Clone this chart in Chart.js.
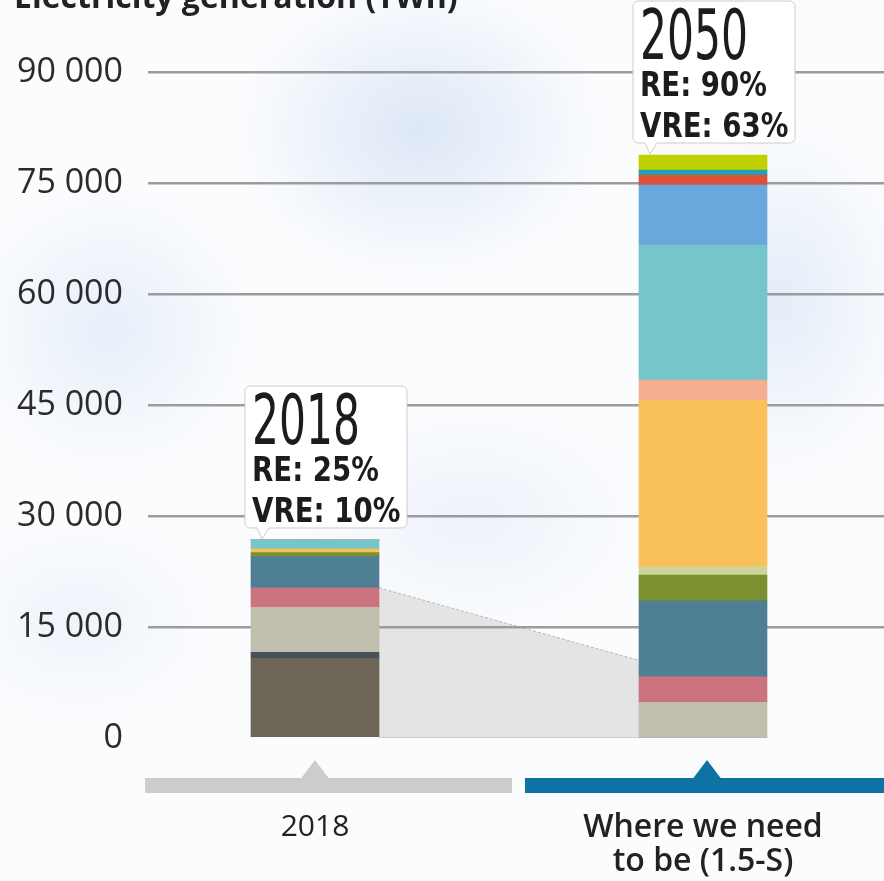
<!DOCTYPE html>
<html><head><meta charset="utf-8">
<script src="https://cdn.jsdelivr.net/npm/chart.js@4/dist/chart.umd.min.js"></script>
<style>
html,body{margin:0;padding:0;width:884px;height:881px;overflow:hidden;}
body{background:
 radial-gradient(ellipse 260px 210px at 420px 130px, rgba(196,215,239,.55), transparent 72%),
 radial-gradient(ellipse 190px 260px at 780px 300px, rgba(200,218,240,.45), transparent 70%),
 radial-gradient(ellipse 210px 210px at 110px 330px, rgba(205,222,242,.45), transparent 70%),
 radial-gradient(ellipse 260px 170px at 470px 520px, rgba(210,225,243,.35), transparent 70%),
 radial-gradient(ellipse 200px 150px at 80px 620px, rgba(215,228,245,.35), transparent 70%),
 #fbfcfe;}
#wrap{position:relative;width:884px;height:881px;}
</style></head><body><div id="wrap"><canvas id="c" width="884" height="881"></canvas></div>
<script>
// ---- data ----
const categories = ['2018', 'Where we need to be (1.5-S)'];
const xLabels = ['2018', ['Where we need', 'to be (1.5-S)']];
const yTicks = [0, 15000, 30000, 45000, 60000, 75000, 90000];
const calloutYears = ['2018', '2050'];
const reShares = [25, 90];
const vreShares = [10, 63];
const connector = [20300, 10500];

const seriesNames = ['Coal', 'Oil', 'Natural gas', 'Nuclear', 'Hydropower', 'Bioenergy',
  'Geothermal', 'Solar PV', 'CSP', 'Wind onshore', 'Wind offshore', 'Ocean', 'Others', 'Hydrogen'];
const coal        = [10770, 0];
const oil         = [810, 0];
const naturalGas  = [6080, 4820];
const nuclear     = [2650, 3460];
const hydropower  = [4190, 10270];
const bioenergy   = [540, 3470];
const geothermal  = [0, 1120];
const solarPV     = [500, 22530];
const csp         = [0, 2700];
const windOnshore = [1220, 18240];
const windOffshore= [0, 8110];
const ocean       = [0, 1350];
const others      = [0, 680];
const hydrogen    = [0, 2030];
const seriesValues = [coal, oil, naturalGas, nuclear, hydropower, bioenergy, geothermal,
  solarPV, csp, windOnshore, windOffshore, ocean, others, hydrogen];

// ---- styles ----
const palette = ['#6c6558', '#45525a', '#c0bfad', '#cc7380', '#4f7f95', '#7b902e',
  '#cdd59c', '#f9c05c', '#f5ae92', '#76c5cb', '#68a8dc', '#de5038', '#1fa2b4', '#bfd100'];

const totals = categories.map((c, i) => seriesValues.reduce((s, arr) => s + arr[i], 0));
const fmt = v => String(v).replace(/\B(?=(\d{3})+(?!\d))/g, ' ');
const BAR = 128;

const backdrop = {
  id: 'backdrop',
  beforeDraw(chart) {
    const {ctx, scales: {x, y}} = chart;
    const x0 = x.getPixelForValue(0) + BAR / 2, x1 = x.getPixelForValue(1) - BAR / 2;
    const ya = y.getPixelForValue(connector[0]), yb = y.getPixelForValue(connector[1]);
    const y0 = y.getPixelForValue(0);
    ctx.save();
    ctx.fillStyle = '#e4e4e4';
    ctx.beginPath();
    ctx.moveTo(x0, ya); ctx.lineTo(x1, yb); ctx.lineTo(x1, y0); ctx.lineTo(x0, y0); ctx.closePath();
    ctx.fill();
    ctx.strokeStyle = '#b8b8b8'; ctx.lineWidth = 1; ctx.setLineDash([3, 2]);
    ctx.beginPath(); ctx.moveTo(x0, ya); ctx.lineTo(x1, yb); ctx.stroke();
    ctx.setLineDash([]);
    ctx.strokeStyle = '#cfcfcf';
    ctx.beginPath(); ctx.moveTo(x0, y0 - 0.5); ctx.lineTo(x1, y0 - 0.5); ctx.stroke();
    // title (cropped at top)
    ctx.fillStyle = '#222';
    ctx.font = 'bold 32px "Open Sans"';
    ctx.textBaseline = 'alphabetic';
    ctx.fillText('Electricity generation (TWh)', 14, 8);
    ctx.restore();
  }
};

const callouts = {
  id: 'callouts',
  afterDatasetsDraw(chart) {
    const {ctx, scales: {x, y}} = chart;
    categories.forEach((c, i) => {
      const top = y.getPixelForValue(totals[i]);
      const xl = x.getPixelForValue(i) - BAR / 2;
      const bl = xl - 6, br = xl + 156, bt = top - 154, bb = top - 12;
      ctx.save();
      ctx.fillStyle = '#ffffff';
      ctx.strokeStyle = '#cccccc';
      ctx.lineWidth = 1;
      ctx.beginPath();
      ctx.moveTo(bl + 6, bt); ctx.lineTo(br - 6, bt); ctx.quadraticCurveTo(br, bt, br, bt + 6);
      ctx.lineTo(br, bb - 6); ctx.quadraticCurveTo(br, bb, br - 6, bb);
      ctx.lineTo(xl + 18, bb); ctx.lineTo(xl + 11, top - 1); ctx.lineTo(xl + 6, bb);
      ctx.lineTo(bl + 6, bb); ctx.quadraticCurveTo(bl, bb, bl, bb - 6);
      ctx.lineTo(bl, bt + 6); ctx.quadraticCurveTo(bl, bt, bl + 6, bt);
      ctx.closePath();
      ctx.fill(); ctx.stroke();
      ctx.fillStyle = '#1c1c1c';
      ctx.textBaseline = 'alphabetic';
      // year
      ctx.font = '70px "DejaVu Sans"';
      const sy = 108 / ctx.measureText('2018').width;
      ctx.save(); ctx.translate(xl + 1, top - 96); ctx.scale(sy, 1);
      ctx.fillText(calloutYears[i], 0, 0); ctx.restore();
      // RE / VRE
      ctx.font = 'bold 33px "DejaVu Sans"';
      const sr = 127 / ctx.measureText('RE: 25%').width;
      ctx.save(); ctx.translate(xl + 1, top - 59); ctx.scale(sr, 1);
      ctx.fillText('RE: ' + reShares[i] + '%', 0, 0); ctx.restore();
      ctx.save(); ctx.translate(xl + 1, top - 18); ctx.scale(sr, 1);
      ctx.fillText('VRE: ' + vreShares[i] + '%', 0, 0); ctx.restore();
      ctx.restore();
    });
  }
};

const strips = {
  id: 'strips',
  afterDraw(chart) {
    const {ctx, scales: {x, y}} = chart;
    const base = y.getPixelForValue(0);
    const st = base + 40, sh = 15;
    const c0 = x.getPixelForValue(0), c1 = x.getPixelForValue(1);
    const mid = (c0 + c1) / 2 + 9;
    ctx.save();
    ctx.fillStyle = '#cccccc';
    ctx.fillRect(145, st, mid - 6 - 145, sh);
    ctx.beginPath(); ctx.moveTo(c0 - 14, st + 0.5); ctx.lineTo(c0, st - 18); ctx.lineTo(c0 + 14, st + 0.5); ctx.closePath(); ctx.fill();
    ctx.fillStyle = '#0e72a4';
    ctx.fillRect(mid + 7, st, chart.width - mid - 7, sh);
    ctx.beginPath(); ctx.moveTo(c1 + 4 - 14, st + 0.5); ctx.lineTo(c1 + 4, st - 18); ctx.lineTo(c1 + 4 + 14, st + 0.5); ctx.closePath(); ctx.fill();
    ctx.restore();
  }
};

new Chart(document.getElementById('c'), {
  type: 'bar',
  data: {
    datasets: seriesNames.map((n, k) => ({
      label: n,
      data: seriesValues[k].map((v, i) => ({x: i, y: v})),
      backgroundColor: palette[k],
      borderWidth: 0,
      barThickness: BAR
    }))
  },
  options: {
    responsive: false,
    devicePixelRatio: 1,
    animation: false,
    layout: {padding: {top: 35, left: 0, right: 0, bottom: 0}},
    plugins: {legend: {display: false}, tooltip: {enabled: false}},
    scales: {
      x: {
        type: 'linear', min: -0.4304, max: 1.4665, stacked: true, offset: false,
        grid: {display: false, drawTicks: false, offset: false},
        border: {display: false},
        afterBuildTicks: s => { s.ticks = categories.map((c, i) => ({value: i})); },
        afterFit: s => { s.height = 143; s.paddingLeft = 0; s.paddingRight = 0; s.paddingTop = 0; s.paddingBottom = 0; },
        ticks: {
          padding: 73, autoSkip: false, maxRotation: 0, minRotation: 0, color: '#222',
          font: c => ({family: 'Open Sans', size: c.index === 1 ? 32 : 30, weight: c.index === 1 ? '600' : '400', lineHeight: 1.07}),
          callback: v => xLabels[v]
        }
      },
      y: {
        stacked: true, min: 0, max: 95000,
        afterBuildTicks: s => { s.ticks = yTicks.map(v => ({value: v})); },
        afterFit: s => { s.width = 148; s.paddingTop = 0; s.paddingBottom = 0; s.paddingLeft = 0; s.paddingRight = 0; },
        grid: {color: c => c.tick && c.tick.value === 0 ? 'rgba(0,0,0,0)' : '#9c9c9c', lineWidth: 2.5, drawTicks: false},
        border: {display: false},
        ticks: {padding: 25, color: '#2b2b2b', font: {family: 'Open Sans', size: 34}, callback: v => fmt(v)}
      }
    }
  },
  plugins: [backdrop, callouts, strips]
});
</script></body></html>
